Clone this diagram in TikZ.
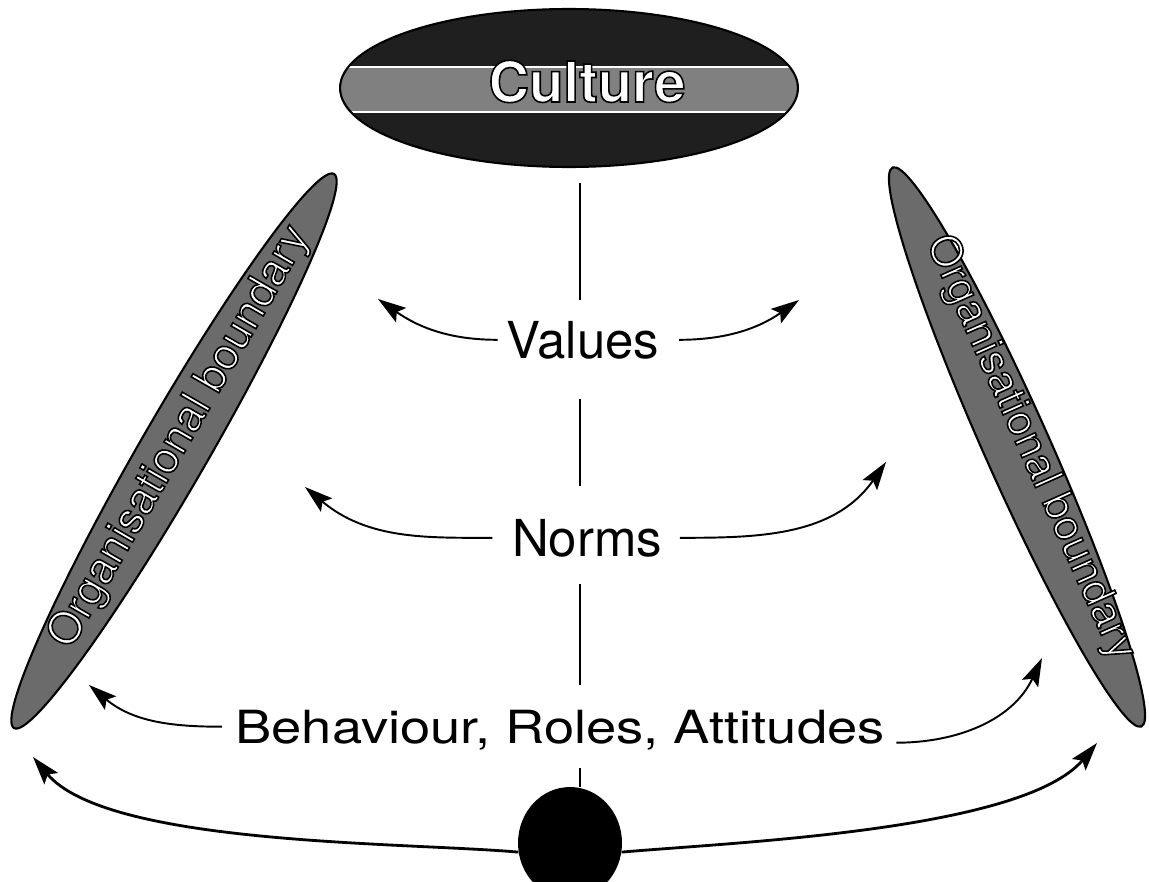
\documentclass[tikz,border=0pt]{standalone}
\usepackage{fontspec}
\setmainfont{TeX Gyre Heros}
\usetikzlibrary{shapes.geometric,arrows.meta}

\tikzset{
	oval/.style={ellipse, draw=black, line width=1.2pt, inner sep=0pt},
	flow/.style={-{Stealth[length=16pt,width=10pt,inset=3pt]}, line width=1.1pt},
	bigflow/.style={flow, line width=1.6pt},
	stem/.style={line width=1.1pt},
	layer/.style={anchor=base, inner sep=2pt, font=\fontsize{29}{34}\selectfont},
	walltext/.style={inner sep=0pt, font=\fontsize{25}{28}\selectfont},
}

% white letters with a black rim
\newcommand{\outlined}[1]{{\color{white}\special{pdf:literal direct 2 Tr 0 G 0.9 w}#1\special{pdf:literal direct 0 Tr}}}

\begin{document}
\begin{tikzpicture}[x=0.02cm, y=0.02cm]
	\useasboundingbox (0,0) rectangle (1149,-882);
	\coordinate (axis) at (580,0);
	
	% culture on top
	\node[oval, fill=black!88, minimum width=9.16cm, minimum height=3.16cm,
		path picture={
			\fill[black!50] ([yshift=0.42cm]path picture bounding box.west) rectangle ([yshift=-0.48cm]path picture bounding box.east);
			\draw[white, line width=1.5pt] ([yshift=0.42cm]path picture bounding box.west) -- ([yshift=0.42cm]path picture bounding box.east);
			\draw[white, line width=1.5pt] ([yshift=-0.48cm]path picture bounding box.west) -- ([yshift=-0.48cm]path picture bounding box.east);
		}] (culture) at (569,-88) {};
	\node[anchor=base, font=\fontsize{32}{38}\selectfont\bfseries] (culturetext) at (587,-102) {\outlined{Culture}};
	
	% the two boundaries
	\node[oval, fill=black!58, rotate=60, minimum width=12.8cm, minimum height=1.36cm] (leftwall) at (174,-451) {};
	\node[walltext, rotate=60] (lefttext) at (180,-437) {\outlined{Organisational boundary}};
	\node[oval, fill=black!58, rotate=-66, minimum width=12.24cm, minimum height=1.32cm] (rightwall) at (1017,-447) {};
	\node[walltext, rotate=-66, font=\fontsize{24}{28}\selectfont] (righttext) at (1030,-448) {\outlined{Organisational boundary}};
	
	% layers
	\node[layer] (values) at (583,-358) {Values};
	\node[layer] (norms) at (587,-556) {Norms};
	\node[layer, xscale=1.19, font=\fontsize{26}{30}\selectfont] (bra) at (560,-743) {Behaviour, Roles, Attitudes};
	\node[ellipse, fill=black, inner sep=0pt, minimum width=2.08cm, minimum height=2.24cm] (core) at (570,-843) {};
	
	% the stem
	\draw[stem, shorten <=8.5pt, shorten >=9.6pt] (culture.south -| axis) -- (values.north -| axis);
	\draw[stem, shorten <=20.7pt, shorten >=16.5pt] (values.south -| axis) -- (norms.north -| axis);
	\draw[stem, shorten <=13.3pt, shorten >=12pt] (norms.south -| axis) -- (bra.north -| axis);
	\draw[stem, shorten <=8pt] (bra.south -| axis) -- (core.north -| axis);
	
	% arrow ends
	\coordinate (vl) at (378,-299);
	\coordinate (vr) at (799,-300);
	\coordinate (nl) at (305,-487);
	\coordinate (nr) at (886,-462);
	\coordinate (bl) at (89,-685);
	\coordinate (br) at (1042,-658);
	\coordinate (ol) at (33,-757);
	\coordinate (or) at (1097,-743);
	
	\draw[flow, shorten <=3pt] (values.west) to[out=180, in=-35] (vl);
	\draw[flow, shorten <=9pt] (values.east) to[out=0, in=215] (vr);
	\draw[flow, shorten <=9pt] (norms.west) to[out=180, in=-40] (nl);
	\draw[flow, shorten <=8pt] (norms.east) to[out=0, in=235] (nr);
	\draw[flow, shorten <=5pt] ([yshift=0.06cm]bra.west) to[out=180, in=-40] (bl);
	\draw[flow, shorten <=4pt] ([yshift=-0.26cm]bra.east) to[out=0, in=245] (br);
	\draw[bigflow] (core.190) to[out=175, in=-50, looseness=0.6] (ol);
	\draw[bigflow] (core.-10) to[out=5, in=230, looseness=0.6] (or);
\end{tikzpicture}
\end{document}
